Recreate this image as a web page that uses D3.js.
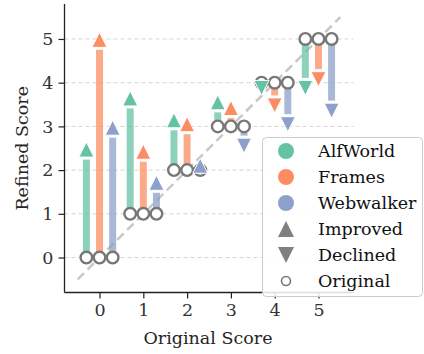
<!DOCTYPE html>
<html>
<head>
<meta charset="utf-8">
<script src="https://cdn.jsdelivr.net/npm/d3@7"></script>
<style>
  body { margin: 0; background: #fff; }
  svg { font-family: "DejaVu Serif", serif; }
</style>
</head>
<body>
<svg id="chart" width="424" height="354"></svg>
<script>
// scores
var originalScores = [0, 1, 2, 3, 4, 5];
var datasets = ['AlfWorld', 'Frames', 'Webwalker'];
var alfworld = [2.47, 3.64, 3.14, 3.55, 3.88, 3.88];
var frames = [4.98, 2.42, 3.05, 3.42, 3.48, 4.08];
var webwalker = [2.97, 1.71, 2.10, 2.56, 3.05, 3.36];
var yTicks = [0, 1, 2, 3, 4, 5];

var colors = ['#66c2a5', '#fc8d62', '#8da0cb'];
var offsets = [-0.3, 0, 0.3];
var refined = [alfworld, frames, webwalker];

var svg = d3.select('#chart');
var plotLeft = 64.5, plotRight = 353.5, plotTop = 4, plotBottom = 292.5;

var x = d3.scaleLinear().domain([-0.8, 5.8]).range([plotLeft, plotRight]);
var y = d3.scaleLinear().domain([-0.8, 5.8]).range([plotBottom, plotTop]);

// horizontal grid
svg.append('g').selectAll('line')
  .data(yTicks)
  .enter()
  .append('line')
  .attr('x1', plotLeft).attr('x2', plotRight)
  .attr('y1', function (d) { return y(d); })
  .attr('y2', function (d) { return y(d); })
  .attr('stroke', '#d4d4d4')
  .attr('stroke-width', 1)
  .attr('stroke-dasharray', '4,3');

// diagonal
svg.append('line')
  .attr('x1', x(-0.5)).attr('y1', y(-0.5))
  .attr('x2', x(5.5)).attr('y2', y(5.5))
  .attr('stroke', '#c8c8c8')
  .attr('stroke-width', 2.5)
  .attr('stroke-dasharray', '9,5');

function tri(size, up) {
  var h = size / 2;
  if (up) return 'M0,' + (-h) + 'L' + (-h) + ',' + h + 'L' + h + ',' + h + 'Z';
  return 'M0,' + h + 'L' + (-h) + ',' + (-h) + 'L' + h + ',' + (-h) + 'Z';
}

// build points
var points = [];
datasets.forEach(function (name, k) {
  originalScores.forEach(function (o, i) {
    points.push({ k: k, o: o, r: refined[k][i], xv: o + offsets[k] });
  });
});

// bars
svg.append('g').selectAll('line')
  .data(points)
  .enter()
  .append('line')
  .attr('x1', function (d) { return x(d.xv); })
  .attr('x2', function (d) { return x(d.xv); })
  .attr('y1', function (d) { return y(d.o); })
  .attr('y2', function (d) {
    var y0 = y(d.o), y1 = y(d.r);
    var dir = y1 < y0 ? 1 : -1;
    var end = y1 + dir * 10;
    if ((y1 < y0 && end > y0) || (y1 > y0 && end < y0)) end = y0;
    return end;
  })
  .attr('stroke', function (d) { return colors[d.k]; })
  .attr('stroke-opacity', 0.75)
  .attr('stroke-width', 7);

// original circles
svg.append('g').selectAll('circle')
  .data(points)
  .enter()
  .append('circle')
  .attr('cx', function (d) { return x(d.xv); })
  .attr('cy', function (d) { return y(d.o); })
  .attr('r', 5.8)
  .attr('fill', '#fff')
  .attr('stroke', '#777')
  .attr('stroke-width', 2.4);

// refined triangles
svg.append('g').selectAll('path')
  .data(points)
  .enter()
  .append('path')
  .attr('transform', function (d) { return 'translate(' + x(d.xv) + ',' + y(d.r) + ')'; })
  .attr('d', function (d) { return tri(15, d.r >= d.o); })
  .attr('fill', function (d) { return colors[d.k]; })
  .attr('stroke', '#fff')
  .attr('stroke-width', 1);

// axes
var xAxis = svg.append('g')
  .attr('transform', 'translate(0,' + plotBottom + ')')
  .call(d3.axisBottom(x).tickValues(originalScores).tickSize(6).tickPadding(5).tickFormat(d3.format('d')));
var yAxis = svg.append('g')
  .attr('transform', 'translate(' + plotLeft + ',0)')
  .call(d3.axisLeft(y).tickValues(yTicks).tickSize(6).tickPadding(5).tickFormat(d3.format('d')));

[xAxis, yAxis].forEach(function (a) {
  a.select('.domain').attr('stroke', '#222').attr('stroke-width', 1.3);
  a.selectAll('.tick line').attr('stroke', '#222').attr('stroke-width', 1.2);
  a.selectAll('.tick text')
    .attr('fill', '#333')
    .style('font-family', '"DejaVu Serif", serif')
    .style('font-size', '17.5px');
});
xAxis.select('.domain').attr('d', 'M' + plotLeft + ',0H' + plotRight);
yAxis.select('.domain').attr('d', 'M0,' + plotTop + 'V' + plotBottom);

svg.append('text')
  .attr('x', (plotLeft + plotRight) / 2 - 1)
  .attr('y', 344)
  .attr('text-anchor', 'middle')
  .attr('fill', '#262626')
  .style('font-size', '17.5px')
  .text('Original Score');

svg.append('text')
  .attr('transform', 'translate(28,' + ((plotTop + plotBottom) / 2) + ') rotate(-90)')
  .attr('text-anchor', 'middle')
  .attr('fill', '#262626')
  .style('font-size', '17.5px')
  .text('Refined Score');

// legend
var legendItems = [
  { label: 'AlfWorld', type: 'dot', color: colors[0] },
  { label: 'Frames', type: 'dot', color: colors[1] },
  { label: 'Webwalker', type: 'dot', color: colors[2] },
  { label: 'Improved', type: 'up', color: '#808080' },
  { label: 'Declined', type: 'down', color: '#808080' },
  { label: 'Original', type: 'open', color: '#777' }
];
var lg = svg.append('g');
lg.append('rect')
  .attr('x', 262.5).attr('y', 137.5)
  .attr('width', 160).attr('height', 159)
  .attr('rx', 4)
  .attr('fill', '#fff').attr('fill-opacity', 0.85)
  .attr('stroke', '#cccccc');

var rows = lg.selectAll('g.item')
  .data(legendItems)
  .enter()
  .append('g')
  .attr('class', 'item')
  .attr('transform', function (d, i) { return 'translate(286,' + (151 + i * 26) + ')'; });

rows.each(function (d) {
  var g = d3.select(this);
  if (d.type === 'dot') {
    g.append('circle').attr('r', 8).attr('fill', d.color);
  } else if (d.type === 'open') {
    g.append('circle').attr('r', 4.5).attr('fill', '#fff').attr('stroke', d.color).attr('stroke-width', 1.6);
  } else {
    g.append('path').attr('d', tri(16, d.type === 'up')).attr('fill', d.color);
  }
});

rows.append('text')
  .attr('x', 32)
  .attr('dy', '0.35em')
  .attr('fill', '#111')
  .style('font-size', '17.5px')
  .text(function (d) { return d.label; });
</script>
</body>
</html>
